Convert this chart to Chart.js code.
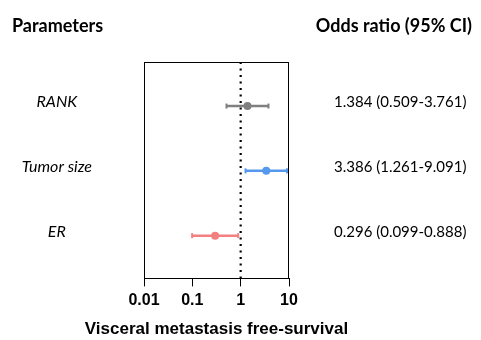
<!DOCTYPE html>
<html>
<head>
<meta charset="utf-8">
<script src="https://cdn.jsdelivr.net/npm/chart.js@4/dist/chart.umd.min.js"></script>
<style>
html,body{margin:0;padding:0;background:#fff;}
#wrap{width:481px;height:340px;}
</style>
</head>
<body>
<div id="wrap"><canvas id="c" width="481" height="340"></canvas></div>
<script>
// ---- data ----
const parameters = ['RANK', 'Tumor size', 'ER'];
const oddsRatio = [1.384, 3.386, 0.296];
const ciLow = [0.509, 1.261, 0.099];
const ciHigh = [3.761, 9.091, 0.888];
const orLabels = ['1.384 (0.509-3.761)', '3.386 (1.261-9.091)', '0.296 (0.099-0.888)'];
const xTickValues = [0.01, 0.1, 1, 10];
const xTickLabels = ['0.01', '0.1', '1', '10'];
const rowColors = ['#808080', '#5598ee', '#f28080'];
const headerLeft = 'Parameters';
const headerRight = 'Odds ratio (95% CI)';
const xTitle = 'Visceral metastasis free-survival';

const Y_MIN = 0.32, Y_MAX = 3.66;
const LABEL_SHIFT = 0.06;
const rows = parameters.map((_, i) => i + 1);

const datasets = [];
parameters.forEach((p, i) => {
  datasets.push({
    type: 'scatter',
    data: [{x: oddsRatio[i], y: rows[i]}],
    backgroundColor: rowColors[i],
    borderColor: rowColors[i],
    pointRadius: 4,
    pointBorderWidth: 0,
    order: 1,
    clip: false
  });
  datasets.push({
    type: 'line',
    data: [{x: ciLow[i], y: rows[i]}, {x: ciHigh[i], y: rows[i]}],
    borderColor: rowColors[i],
    backgroundColor: rowColors[i],
    borderWidth: 2.5,
    pointStyle: 'line',
    pointRotation: 90,
    pointRadius: 2.5,
    pointBorderWidth: 2,
    fill: false,
    order: 2,
    clip: false
  });
});
datasets.push({
  type: 'line',
  data: [{x: 1, y: Y_MIN}, {x: 1, y: Y_MAX}],
  borderColor: '#000',
  borderWidth: 2.2,
  borderDash: [2, 4.5],
  pointRadius: 0,
  fill: false,
  order: 10,
  clip: false
});

const boxAndHeaders = {
  id: 'boxAndHeaders',
  afterDatasetsDraw(chart) {
    const {ctx, chartArea: a} = chart;
    ctx.save();
    ctx.strokeStyle = '#000';
    ctx.lineWidth = 1;
    ctx.strokeRect(Math.round(a.left) + 0.5, Math.round(a.top) + 0.5,
      Math.round(a.right - a.left) - 1, Math.round(a.bottom - a.top));
    ctx.restore();
  },
  afterDraw(chart) {
    const {ctx, chartArea: a} = chart;
    ctx.save();
    ctx.fillStyle = '#000';
    ctx.font = 'bold 18px Lato';
    ctx.textBaseline = 'middle';
    ctx.textAlign = 'left';
    ctx.fillText(headerLeft, 12, 26);
    ctx.textAlign = 'right';
    ctx.fillText(headerRight, 472, 26);
    ctx.font = 'bold 17px "Liberation Sans"';
    ctx.textAlign = 'center';
    ctx.fillText(xTitle, (a.left + a.right) / 2, 329);
    ctx.restore();
  }
};

new Chart(document.getElementById('c'), {
  data: {datasets},
  options: {
    responsive: false,
    animation: false,
    events: [],
    layout: {padding: {top: 62, left: 0, right: 0, bottom: 0}},
    plugins: {legend: {display: false}, tooltip: {enabled: false}, title: {display: false}},
    scales: {
      x: {
        type: 'logarithmic',
        position: 'bottom',
        min: 0.01,
        max: 10,
        afterBuildTicks(s) { s.ticks = xTickValues.map(v => ({value: v})); },
        afterFit(s) { s.height = 60; },
        grid: {display: true, drawOnChartArea: false, drawTicks: true, tickLength: 8, color: '#000', lineWidth: 1},
        border: {display: false},
        ticks: {
          color: '#000',
          font: {family: 'Liberation Sans', size: 16, weight: 'bold'},
          padding: 5,
          maxRotation: 0,
          autoSkip: false,
          callback: (v, i) => xTickLabels[i]
        }
      },
      y: {
        type: 'linear',
        position: 'left',
        min: Y_MIN,
        max: Y_MAX,
        reverse: true,
        afterBuildTicks(s) { s.ticks = rows.map(v => ({value: v - LABEL_SHIFT})); },
        afterFit(s) { s.width = 144; },
        grid: {display: false, drawTicks: false},
        border: {display: false},
        ticks: {
          color: '#000',
          font: {family: 'Lato', size: 16, style: 'italic'},
          crossAlign: 'center',
          padding: 52,
          autoSkip: false,
          callback: (v, i) => parameters[i]
        }
      },
      y2: {
        type: 'linear',
        position: 'right',
        min: Y_MIN,
        max: Y_MAX,
        reverse: true,
        afterBuildTicks(s) { s.ticks = rows.map(v => ({value: v - LABEL_SHIFT})); },
        afterFit(s) { s.width = 192; },
        grid: {display: false, drawTicks: false},
        border: {display: false},
        ticks: {
          color: '#000',
          font: {family: 'Lato', size: 15},
          crossAlign: 'near',
          padding: 45,
          autoSkip: false,
          callback: (v, i) => orLabels[i]
        }
      }
    }
  },
  plugins: [boxAndHeaders]
});
</script>
</body>
</html>
